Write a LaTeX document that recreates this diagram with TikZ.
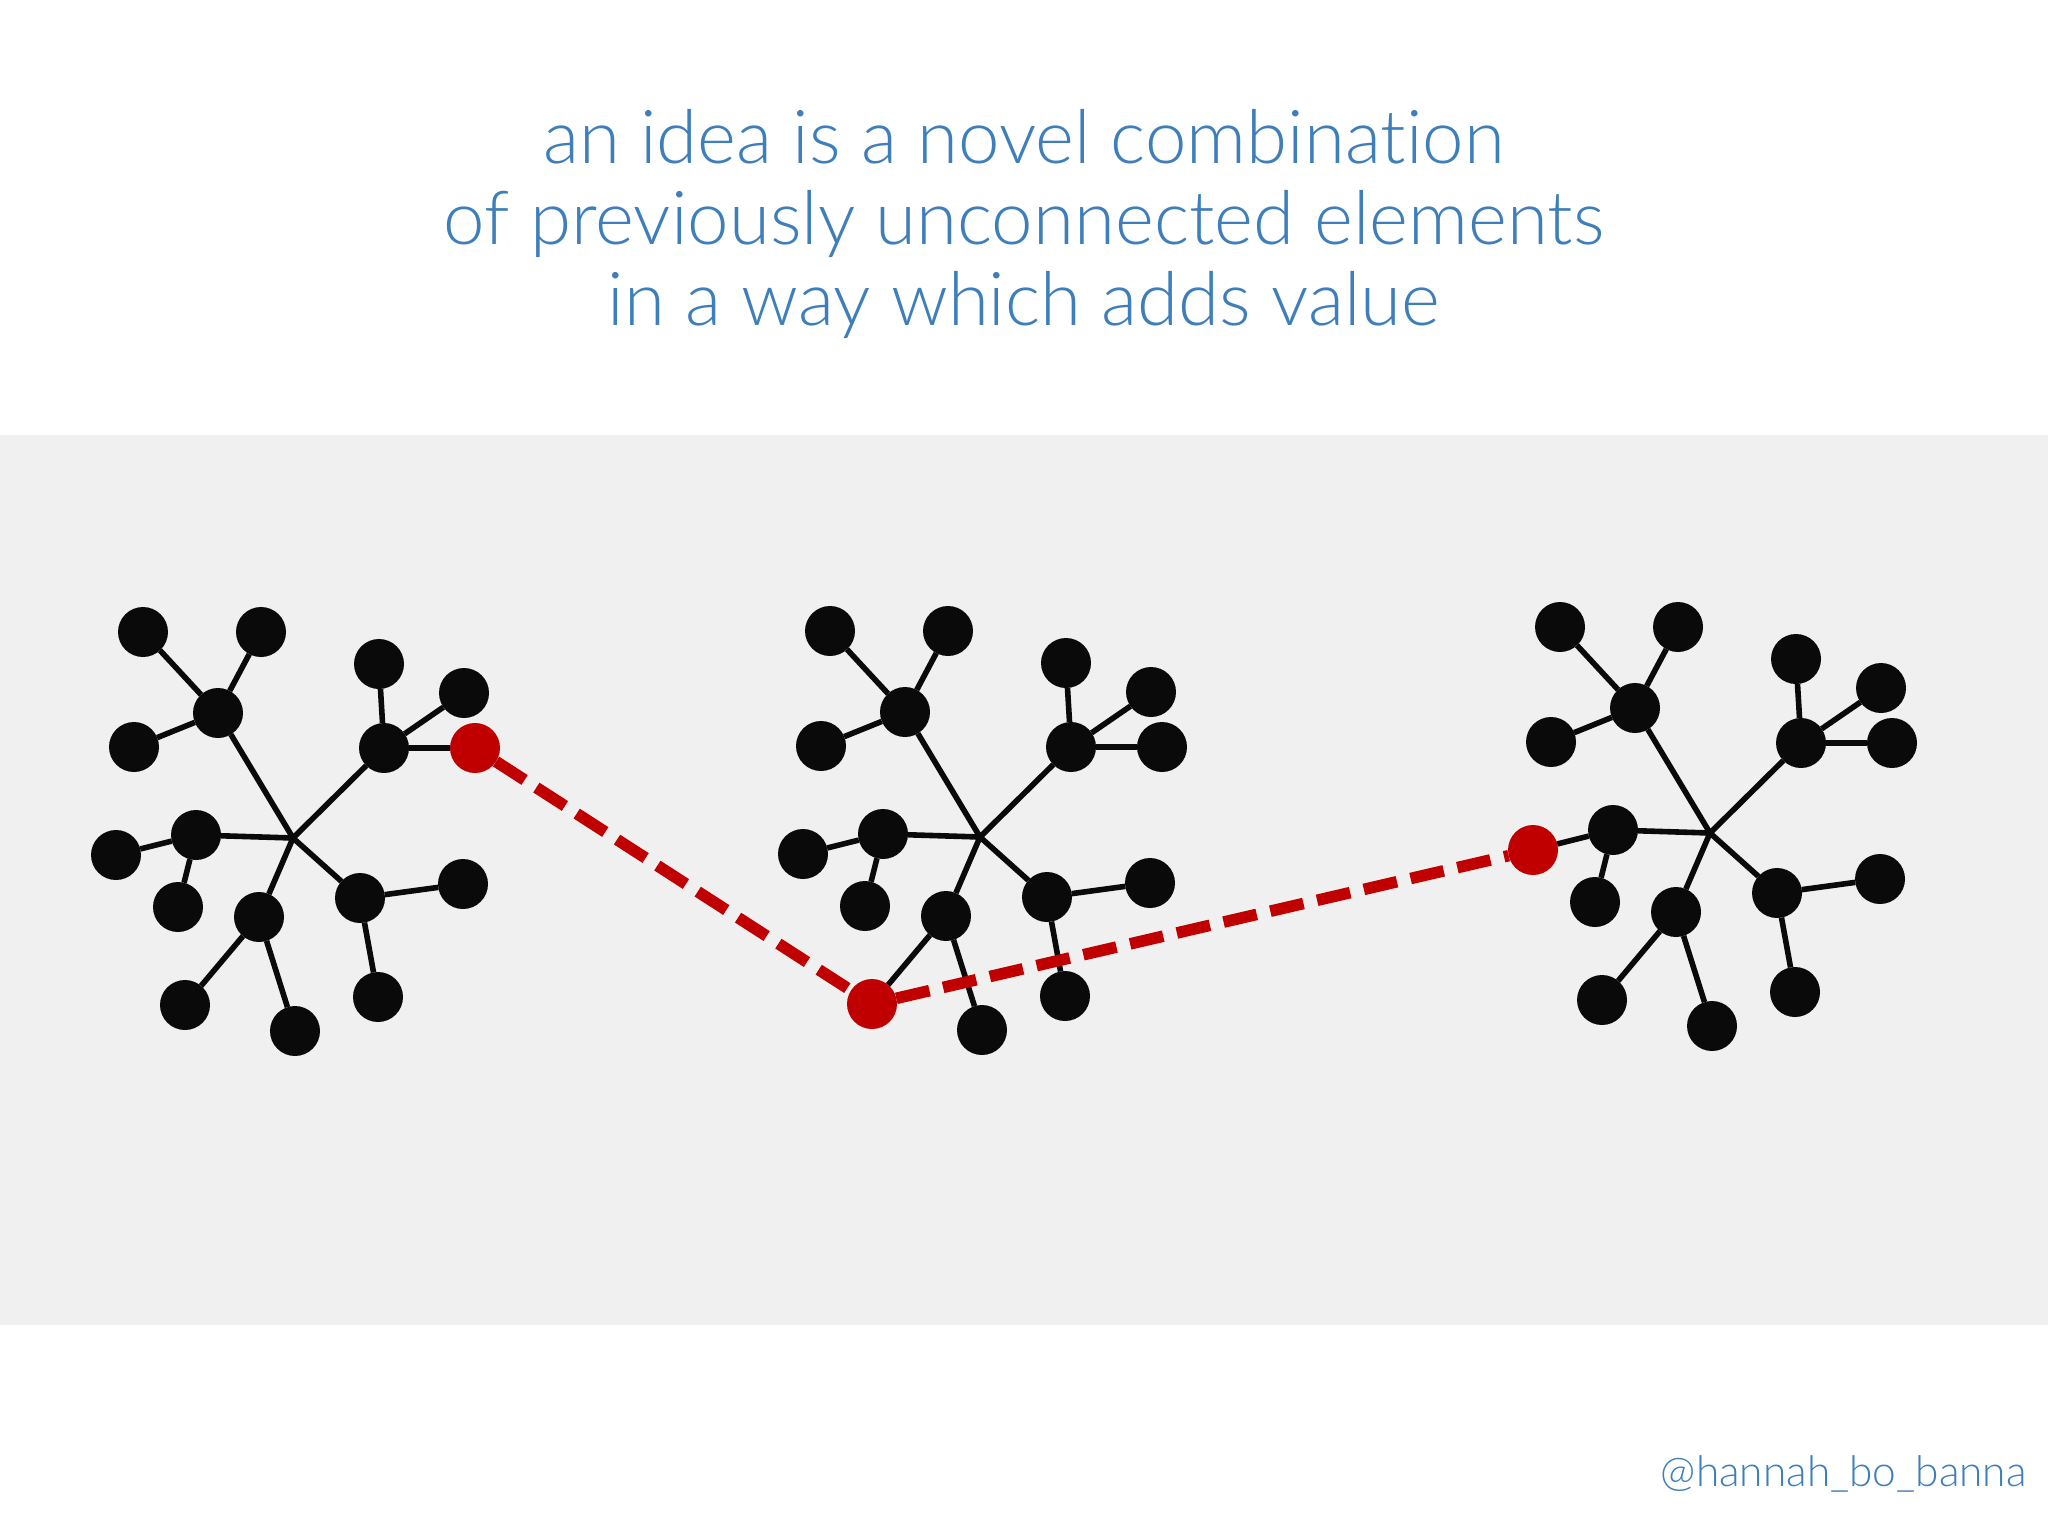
\documentclass[tikz,border=0pt]{standalone}
\usepackage{fontspec}
\IfFontExistsTF{Lato Light}{\newfontfamily\titlefont[Ligatures=NoCommon]{Lato Light}}{\newfontfamily\titlefont[Ligatures=NoCommon]{Lato}}
\definecolor{titleblue}{RGB}{61,126,187}
\definecolor{bandgray}{RGB}{241,240,241}
\definecolor{dotblack}{RGB}{10,10,10}
\definecolor{ideared}{RGB}{192,0,0}
\tikzset{
  dot/.style={circle, fill=dotblack, minimum size=25pt, inner sep=0pt, outer sep=0pt},
  reddot/.style={dot, fill=ideared},
  edge/.style={draw=dotblack, line width=2.8pt},
  ideadash/.style={draw=ideared, line width=5.8pt, dash pattern=on 17pt off 7pt},
  titletext/.style={text=titleblue, font=\titlefont\fontsize{37.2}{41}\selectfont, anchor=base, inner sep=0pt},
  handletext/.style={text=titleblue, font=\titlefont\fontsize{21.2}{25}\selectfont, anchor=base east, inner sep=0pt}
}
% #1 prefix, #2 x, #3 y, #4 style of leaf b3, #5 style of leaf d1, #6 style of leaf c1
\newcommand\ideatree[6]{%
  \begin{scope}[shift={(#2,#3)}]
    \coordinate (#1o) at (0,0);
    \node[dot] (#1a)  at (-75,-125) {};
    \node[dot] (#1a1) at (-150,-206) {};
    \node[dot] (#1a2) at (-32,-206) {};
    \node[dot] (#1a3) at (-159,-91) {};
    \node[dot] (#1b)  at (91,-90) {};
    \node[dot] (#1b1) at (86,-174) {};
    \node[dot] (#1b2) at (171,-145) {};
    \node[#4]  (#1b3) at (182,-90) {};
    \node[dot] (#1c)  at (-97,-3) {};
    \node[#6]  (#1c1) at (-177,17) {};
    \node[dot] (#1c2) at (-115,69) {};
    \node[dot] (#1d)  at (-34,79) {};
    \node[#5]  (#1d1) at (-108,167) {};
    \node[dot] (#1d2) at (2,193) {};
    \node[dot] (#1e)  at (67,60) {};
    \node[dot] (#1e1) at (170,46) {};
    \node[dot] (#1e2) at (85,159) {};
    \draw[edge] (#1o) -- (#1a) (#1o) -- (#1b) (#1o) -- (#1c) (#1o) -- (#1d) (#1o) -- (#1e);
    \draw[edge] (#1a) -- (#1a1) (#1a) -- (#1a2) (#1a) -- (#1a3);
    \draw[edge] (#1b) -- (#1b1) (#1b) -- (#1b2) (#1b) -- (#1b3);
    \draw[edge] (#1c) -- (#1c1) (#1c) -- (#1c2);
    \draw[edge] (#1d) -- (#1d1) (#1d) -- (#1d2);
    \draw[edge] (#1e) -- (#1e1) (#1e) -- (#1e2);
  \end{scope}}
\begin{document}
\begin{tikzpicture}[x=0.5pt, y=-0.5pt]
  \useasboundingbox (0,0) rectangle (2048,1536);
  \fill[white] (0,0) rectangle (2048,1536);
  \fill[bandgray] (0,435) rectangle (2048,1325);
  \node[titletext] (title1) at (1024,163) {an idea is a novel combination};
  \node[titletext] (title2) at (1024,244) {of previously unconnected elements};
  \node[titletext] (title3) at (1024,325) {in a way which adds value};
  \ideatree{ta}{293}{838}{reddot}{dot}{dot}
  \ideatree{tb}{980}{837}{dot}{reddot}{dot}
  \ideatree{tc}{1710}{833}{dot}{dot}{reddot}
  \draw[ideadash] (tab3) -- (tbd1) -- (tcc1);
  \node[handletext] (handle) at (2027,1486) {@hannah\_bo\_banna};
\end{tikzpicture}
\end{document}
